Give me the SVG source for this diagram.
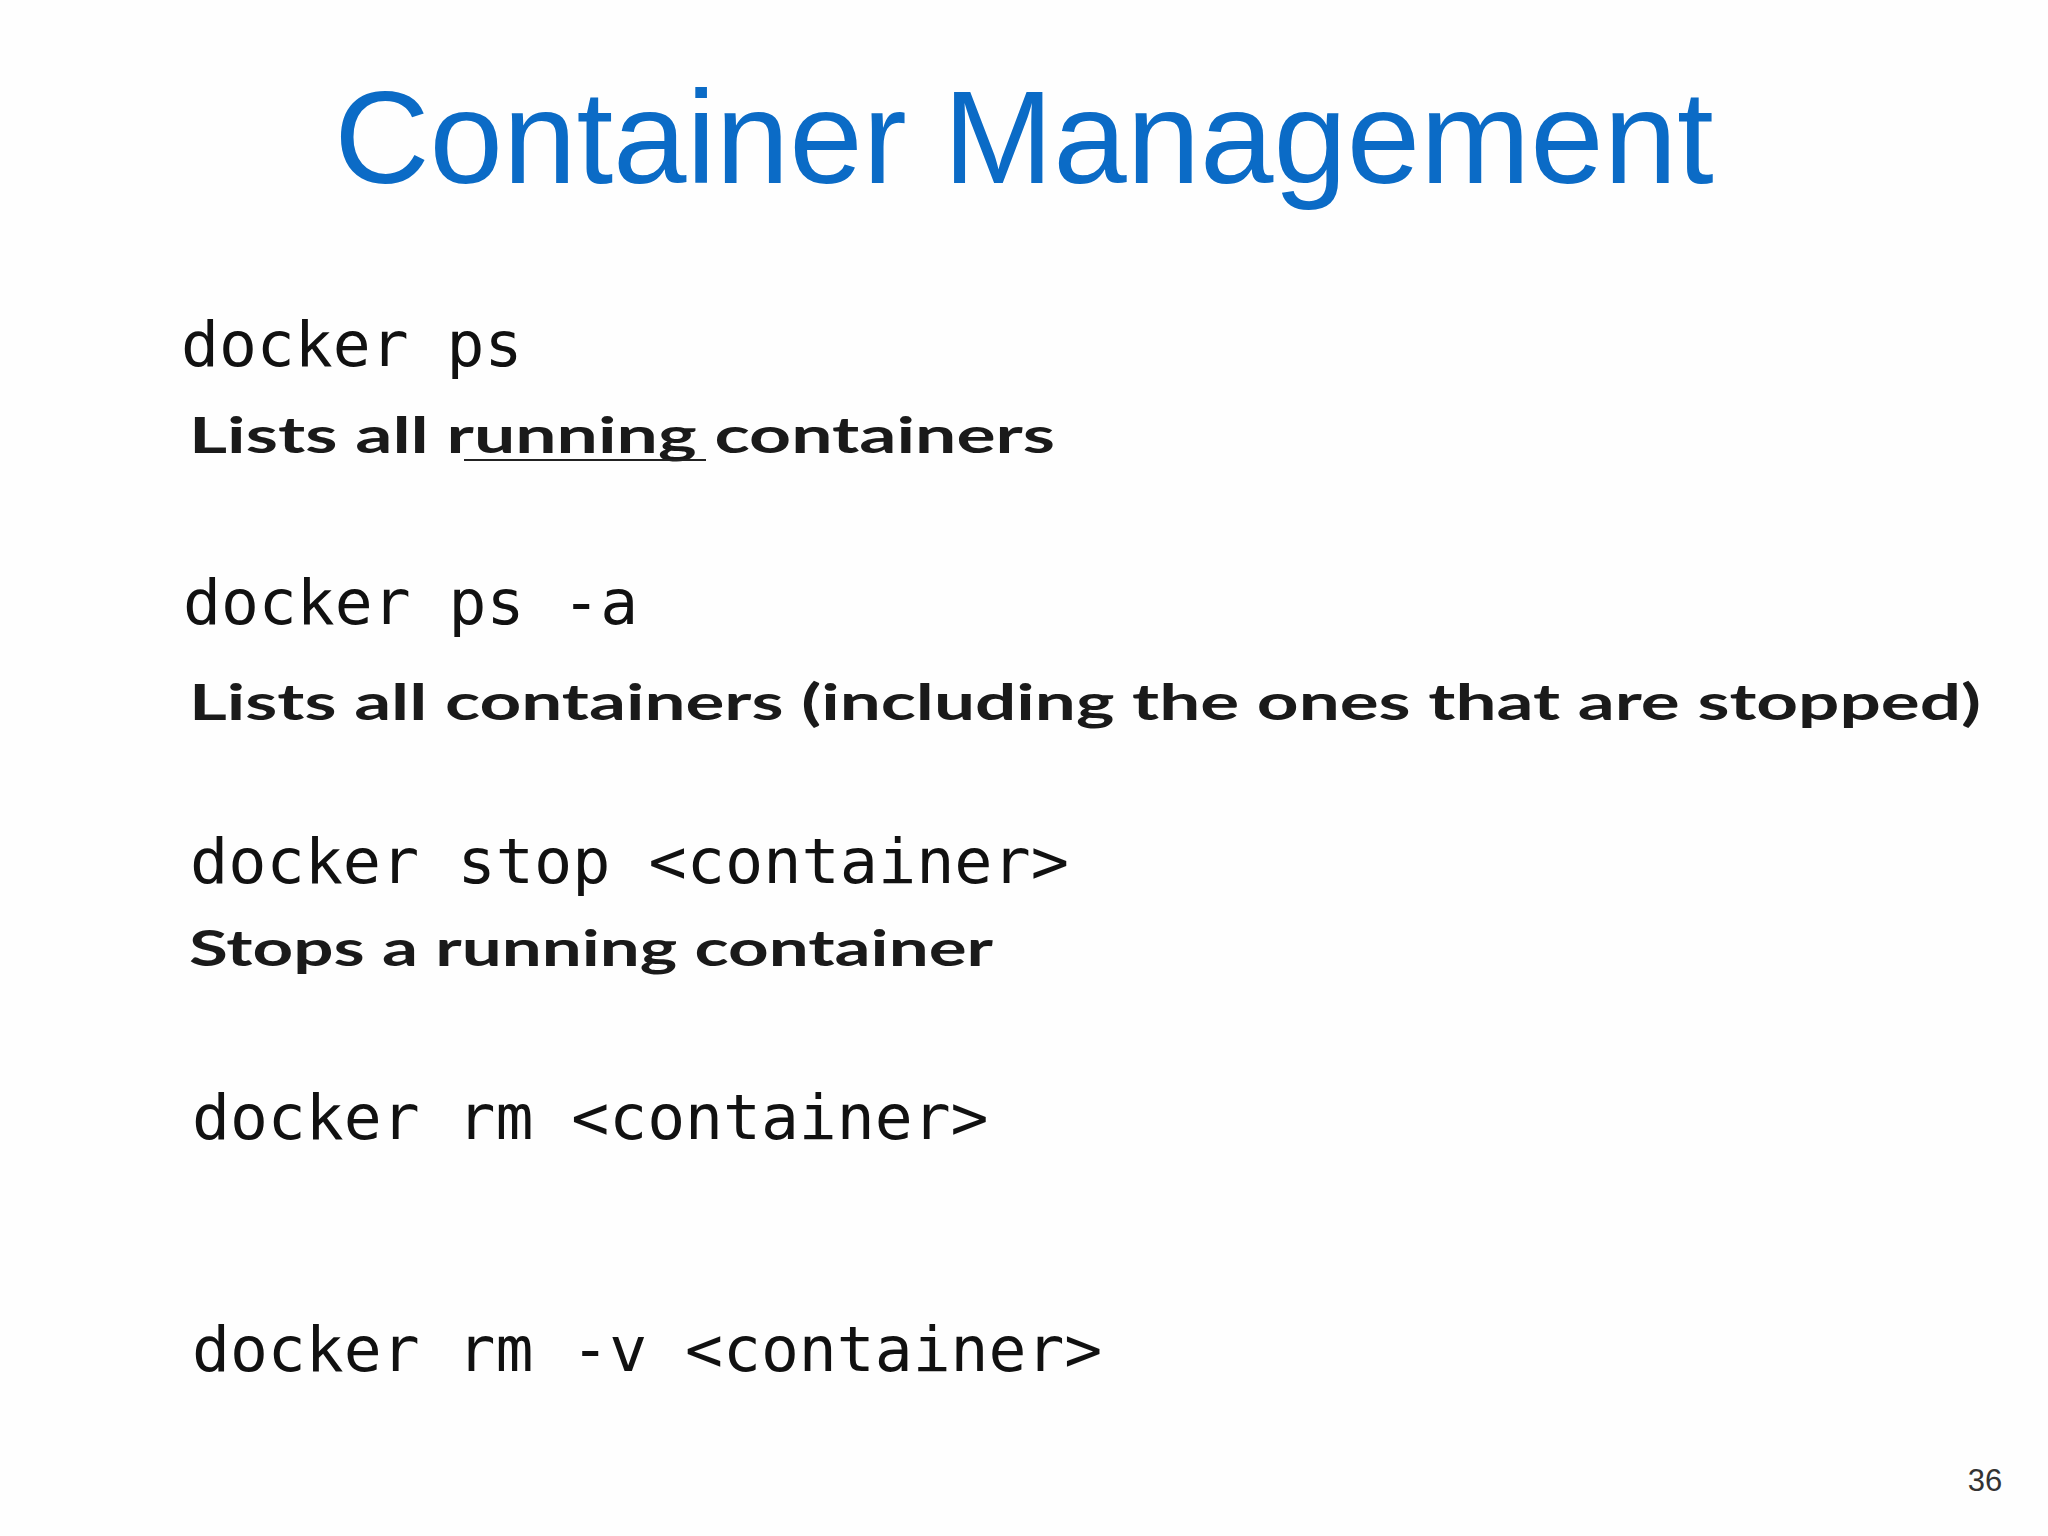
<svg xmlns="http://www.w3.org/2000/svg" width="2048" height="1536" viewBox="0 0 2048 1536">
<style>
.t{font-family:"Helvetica Neue","Liberation Sans",Arial,sans-serif;fill:#0b6bc6;font-size:132px}
.m{font-family:"DejaVu Sans Mono","Liberation Mono",monospace;fill:#111;font-size:63px}
.h{font-family:"Lato","Noto Sans",sans-serif;font-weight:bold;fill:#1a1a1a;font-size:50px}
</style>
<rect width="2048" height="1536" fill="#fefefe"/>
<g id="title"><text class="t" x="1024" y="183" text-anchor="middle">Container Management</text></g>
<g id="ps">
<text class="m" x="181" y="366">docker ps</text>
<text class="h" x="189" y="453" textLength="866" lengthAdjust="spacingAndGlyphs">Lists all running containers</text>
<line x1="464" y1="460" x2="706" y2="460" stroke="#222" stroke-width="2"/>
</g>
<g id="psa">
<text class="m" x="183" y="624">docker ps -a</text>
<text class="h" x="189" y="720" textLength="1792" lengthAdjust="spacingAndGlyphs">Lists all containers (including the ones that are stopped)</text>
</g>
<g id="stop">
<text class="m" x="190" y="883" textLength="879" lengthAdjust="spacingAndGlyphs">docker stop &lt;container&gt;</text>
<text class="h" x="189" y="966" textLength="804" lengthAdjust="spacingAndGlyphs">Stops a running container</text>
</g>
<g id="rm"><text class="m" x="192" y="1139">docker rm &lt;container&gt;</text></g>
<g id="rmv"><text class="m" x="192" y="1371">docker rm -v &lt;container&gt;</text></g>
<g id="page"><text x="1985" y="1491" text-anchor="middle" font-family="Liberation Sans,sans-serif" font-size="31" fill="#333">36</text></g>
</svg>
